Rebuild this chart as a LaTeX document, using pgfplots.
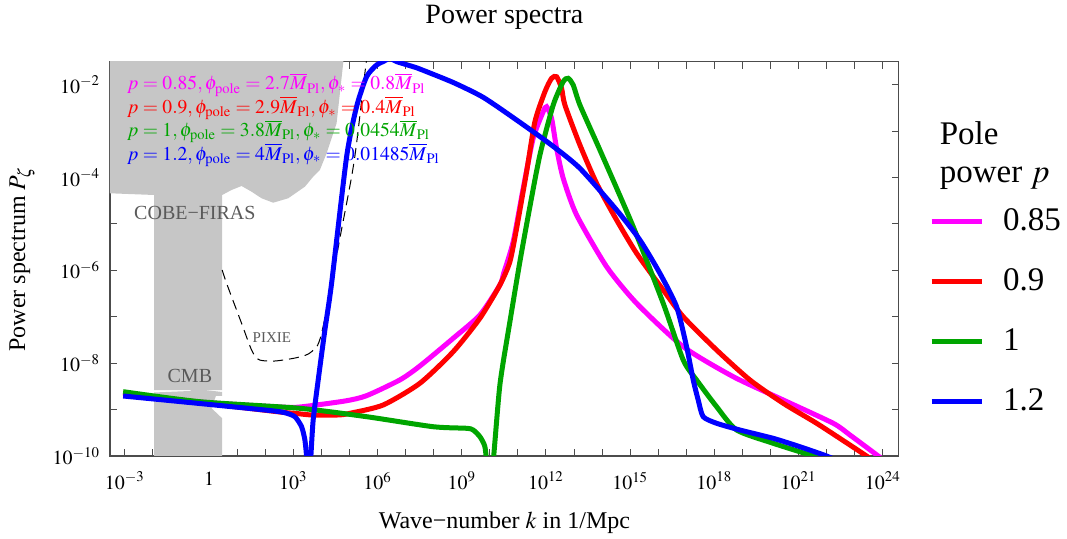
\documentclass[border=0pt]{standalone}
\usepackage{mathptmx}
\usepackage{fontspec}
\setmainfont{Liberation Serif}
\usepackage{pgfplots}
\pgfplotsset{compat=1.18}

\definecolor{pmag}{RGB}{255,0,255}
\definecolor{pred}{RGB}{255,0,0}
\definecolor{pgreen}{RGB}{0,165,0}
\definecolor{pblue}{RGB}{0,0,255}
\definecolor{regiongray}{RGB}{198,198,198}
\definecolor{labelgray}{RGB}{90,90,90}

% all data in log10(k), log10(P)
\begin{document}
\begin{tikzpicture}
\begin{axis}[
    name=ax,
    scale only axis, width=394.4pt, height=197.2pt,
    xmin=-3.53, xmax=24.57, ymin=-10, ymax=-1.5,
    xtick={-3,0,...,24},
    xticklabels={$10^{-3}$,$1$,$10^{3}$,$10^{6}$,$10^{9}$,$10^{12}$,$10^{15}$,$10^{18}$,$10^{21}$,$10^{24}$},
    minor xtick={-2,-1,1,2,4,5,7,8,10,11,13,14,16,17,19,20,22,23},
    ytick={-10,-8,-6,-4,-2},
    yticklabels={$10^{-10}$,$10^{-8}$,$10^{-6}$,$10^{-4}$,$10^{-2}$},
    minor ytick={-9,-7,-5,-3},
    major tick length=3.5pt, minor tick length=3.5pt,
    every tick/.style={black!70, line width=0.5pt},
    axis line style={black!70, line width=0.6pt},
    tick label style={font=\fontsize{10}{12}\selectfont},
    xticklabel style={yshift=-4.5pt},
    yticklabel style={xshift=-1.5pt},
    title={Power spectra},
    title style={font=\fontsize{14}{16}\selectfont, at={(axis description cs:0.5,1)}, anchor=center, yshift=16pt},
    xlabel={Wave−number $k$ in 1/Mpc},
    ylabel={Power spectrum $P_\zeta$},
    every axis x label/.style={at={(axis description cs:0.5,0)}, anchor=center, yshift=-33.5pt, font=\fontsize{12}{14}\selectfont},
    every axis y label/.style={at={(axis description cs:0,0.5)}, anchor=center, xshift=-44pt, rotate=90, font=\fontsize{12}{14}\selectfont},
    legend style={at={(axis description cs:1,1)}, anchor=north west, xshift=15pt, yshift=-71.5pt,
        draw=none, fill=none, font=\fontsize{16.5}{18}\selectfont, row sep=13.5pt, column sep=7.5pt, inner sep=0pt},
    legend cell align=left,
    legend image code/.code={\draw[#1] (0pt,0pt) -- (25pt,0pt);},
]
% COBE-FIRAS region
\addplot[fill=regiongray, draw=none, forget plot] coordinates {
(-3.89,-1.03) (4.873,-1.03) (4.777,-1.537) (4.542,-2.830) (4.186,-3.476) (3.947,-3.836)
(3.708,-3.981) (3.413,-4.196) (2.818,-4.446) (2.283,-4.541) (1.870,-4.446) (1.514,-4.304)
(1.157,-4.181) (0.801,-4.267) (0.466,-4.375) (0.466,-8.578) (-1.956,-8.578) (-1.956,-4.375)
(-3.534,-4.338) (-3.89,-4.338)} -- cycle;
% CMB region
\addplot[fill=regiongray, draw=none, forget plot] coordinates {
(-1.956,-8.631) (-0.684,-8.599) (-0.389,-8.491) (-0.150,-8.578) (0.466,-8.621) (0.466,-8.707)
(0.242,-8.707) (0.089,-8.972) (0.466,-9.188) (0.466,-10.3) (-1.956,-10.3)} -- cycle;
% PIXIE
\addplot[black, line width=0.5pt, dash pattern=on 5pt off 3pt, smooth, tension=0.5, forget plot] coordinates {
(0.466,-5.991) (0.623,-6.278) (1.157,-7.140) (1.514,-7.716) (1.749,-7.916) (2.094,-7.953)
(2.461,-7.946) (3.174,-7.873) (3.651,-7.752) (4.008,-7.356) (4.695,-5.194) (5.076,-3.981)
(5.254,-3.261) (5.586,-1.573) (5.70,-1.20)};
% p = 0.85
\addplot[pmag, line width=2.5pt, smooth, tension=0.4] coordinates {
(-3.061,-8.642) (-0.328,-8.836) (2.522,-8.944) (3.234,-8.944) (4.838,-8.815) (5.611,-8.70)
(6.797,-8.36) (7.509,-8.06) (8.696,-7.463) (9.647,-6.961) (10.359,-6.315) (10.5,-6.05)
(10.834,-5.381) (11.190,-4.231) (11.546,-3.153) (11.902,-2.580) (12.023,-2.472) (12.201,-2.722)
(12.379,-3.369) (12.615,-4.015) (13.092,-4.806) (14.161,-5.920) (15.230,-6.709) (16.890,-7.644)
(18.674,-8.291) (20.453,-8.793) (22.234,-9.295) (22.829,-9.547) (23.837,-10.0) (24.07,-10.11)};
\addlegendentry{0.85}
% p = 0.9
\addplot[pred, line width=2.5pt, smooth, tension=0.4] coordinates {
(-3.061,-8.642) (-0.328,-8.847) (2.522,-9.052) (3.056,-9.080) (3.651,-9.116) (4.599,-9.116)
(5.016,-9.080) (6.202,-8.901) (7.509,-8.433) (8.696,-7.752) (9.647,-7.032) (10.359,-6.315)
(10.716,-5.812) (10.955,-5.093) (11.311,-3.873) (11.607,-2.795) (11.964,-2.149) (12.201,-1.860)
(12.380,-1.826) (12.557,-2.075) (12.675,-2.435) (13.210,-3.297) (13.804,-4.123) (14.517,-4.914)
(15.230,-5.632) (16.177,-6.422) (16.890,-6.998) (18.080,-7.716) (19.267,-8.362) (20.453,-8.864)
(21.642,-9.295) (22.829,-9.763) (23.42,-10.0) (23.72,-10.13)};
\addlegendentry{0.9}
% p = 1
\addplot[pgreen, line width=2.5pt, smooth, tension=0.4] coordinates {
(-3.061,-8.614) (-0.328,-8.830) (3.234,-8.972) (5.611,-9.153) (7.983,-9.369) (9.173,-9.403)
(9.408,-9.44) (9.647,-9.584) (9.825,-9.800) (9.93,-10.3) (10.09,-10.3) (10.359,-8.470)
(10.716,-7.106) (11.072,-5.812) (11.428,-4.627) (11.785,-3.513) (12.259,-2.435) (12.615,-1.933)
(12.793,-1.860) (12.971,-2.004) (13.210,-2.435) (13.922,-3.405) (15.108,-5.058) (16.177,-6.709)
(16.890,-7.931) (17.366,-8.362) (18.080,-8.938) (18.793,-9.440) (20.095,-9.726) (21.52,-10.0)
(22.11,-10.13)};
\addlegendentry{1}
% p = 1.2
\addplot[pblue, line width=2.5pt, smooth, tension=0.4] coordinates {
(-3.061,-8.707) (-0.15,-8.88) (2.226,-9.024) (2.700,-9.067) (3.056,-9.153) (3.295,-9.369)
(3.413,-9.655) (3.473,-10.01) (3.50,-10.3) (3.60,-10.3) (3.626,-10.01) (3.708,-9.224)
(3.887,-8.362) (4.125,-7.284) (4.364,-6.278) (4.898,-3.556) (5.254,-2.472) (5.611,-1.826)
(5.967,-1.573) (6.20,-1.50) (6.44,-1.43) (6.68,-1.50) (7.271,-1.61) (7.509,-1.66)
(8.696,-1.95) (9.765,-2.27) (10.955,-2.759) (12.2,-3.30) (13.210,-3.800) (14.517,-4.698)
(15.347,-5.345) (16.059,-6.063) (16.654,-6.782) (17.010,-7.644) (17.247,-8.362) (17.424,-8.793)
(17.602,-9.153) (18.080,-9.295) (18.910,-9.440) (20.095,-9.619) (21.047,-9.800) (21.997,-10.0)
(22.47,-10.13)};
\addlegendentry{1.2}

\node[labelgray, font=\fontsize{10}{12}\selectfont] at (axis cs:-0.506,-4.763) {COBE−FIRAS};
\node[labelgray, font=\fontsize{10}{12}\selectfont] at (axis cs:-0.684,-8.276) {CMB};
\node[labelgray, font=\fontsize{7.5}{9}\selectfont] at (axis cs:2.237,-7.457) {PIXIE};

\node[pmag, anchor=west, inner sep=0pt, font=\fontsize{9.8}{11}\selectfont] at (axis cs:-2.93,-2.0)
  {$p = 0.85, \phi_{\mathrm{pole}} = 2.7\overline{M}_{\mathrm{Pl}}, \phi_{*} = 0.8\overline{M}_{\mathrm{Pl}}$};
\node[pred, anchor=west, inner sep=0pt, font=\fontsize{9.8}{11}\selectfont] at (axis cs:-2.93,-2.5)
  {$p = 0.9, \phi_{\mathrm{pole}} = 2.9\overline{M}_{\mathrm{Pl}}, \phi_{*} = 0.4\overline{M}_{\mathrm{Pl}}$};
\node[pgreen, anchor=west, inner sep=0pt, font=\fontsize{9.8}{11}\selectfont] at (axis cs:-2.93,-3.0)
  {$p = 1, \phi_{\mathrm{pole}} = 3.8\overline{M}_{\mathrm{Pl}}, \phi_{*} = 0.0454\overline{M}_{\mathrm{Pl}}$};
\node[pblue, anchor=west, inner sep=0pt, font=\fontsize{9.8}{11}\selectfont] at (axis cs:-2.93,-3.51)
  {$p = 1.2, \phi_{\mathrm{pole}} = 4\overline{M}_{\mathrm{Pl}}, \phi_{*} = 0.01485\overline{M}_{\mathrm{Pl}}$};
\end{axis}
\node[anchor=base west, font=\fontsize{16.5}{18}\selectfont] at ([shift={(17pt,-41.5pt)}]ax.north east) {Pole};
\node[anchor=base west, font=\fontsize{16.5}{18}\selectfont] at ([shift={(17pt,-60.5pt)}]ax.north east) {power $p$};
\pgfresetboundingbox
\path[use as bounding box] ([shift={(-55pt,-41.5pt)}]ax.south west) rectangle ([shift={(478.5pt,228pt)}]ax.south west);
\end{tikzpicture}
\end{document}
